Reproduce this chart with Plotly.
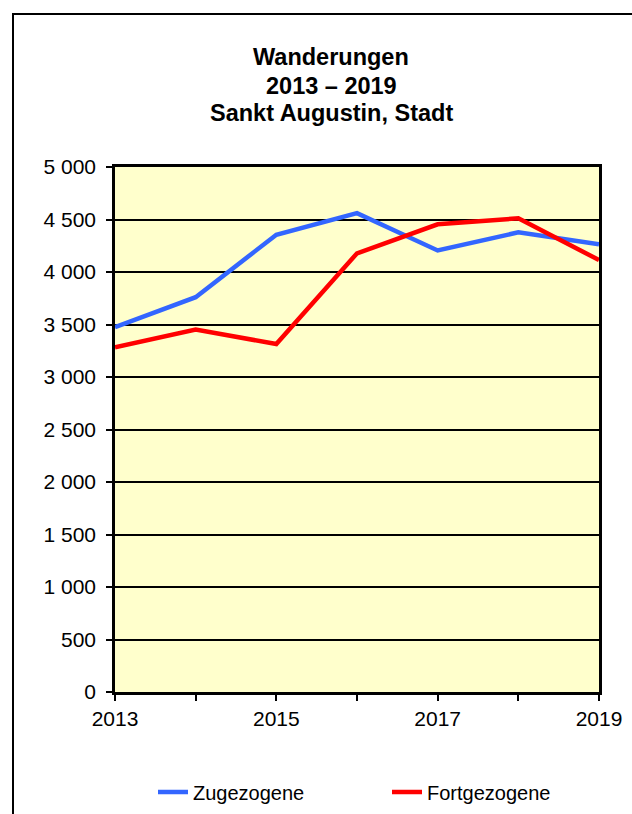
import plotly.graph_objects as go

years = [2013, 2014, 2015, 2016, 2017, 2018, 2019]
zugezogene = [3475, 3760, 4355, 4560, 4205, 4378, 4265]
fortgezogene = [3283, 3452, 3314, 4178, 4454, 4511, 4114]
x_tick_text = ["2013", "", "2015", "", "2017", "", "2019"]
title_lines = ["Wanderungen", "2013 – 2019", "Sankt Augustin, Stadt"]

FONT = "Liberation Sans, Arial, sans-serif"
W, H = 632, 814
L, R, T, B = 115, 33, 167, 122
PW, PH = W - L - R, H - T - B

def px_x(p):
    return (p - L) / PW

def px_y(p):
    return (H - B - p) / PH

fig = go.Figure()
fig.add_trace(go.Scatter(x=years, y=zugezogene, mode="lines", name="Zugezogene",
                         line=dict(color="#3366FF", width=4.5)))
fig.add_trace(go.Scatter(x=years, y=fortgezogene, mode="lines", name="Fortgezogene",
                         line=dict(color="#FF0000", width=4.5)))

annotations = []
for txt, yc in zip(title_lines, [57.5, 85.5, 113]):
    annotations.append(dict(text="<b>" + txt + "</b>", xref="paper", yref="paper",
                            x=px_x(331), y=px_y(yc), xanchor="center", yanchor="middle",
                            showarrow=False, font=dict(family=FONT, size=23.5, color="black")))

fig.update_layout(
    width=W, height=H,
    margin=dict(l=L, r=R, t=T, b=B, pad=0, autoexpand=False),
    paper_bgcolor="white",
    plot_bgcolor="#FFFFCC",
    separators=", ",
    font=dict(family=FONT, size=20, color="black"),
    showlegend=True,
    legend=dict(orientation="h", xref="container", yref="container",
                x=153 / W, xanchor="left", y=(H - 792) / H, yanchor="middle",
                font=dict(family=FONT, size=20, color="black"),
                entrywidth=189, entrywidthmode="pixels", bgcolor="rgba(0,0,0,0)"),
    annotations=annotations,
    shapes=[dict(type="rect", xref="paper", yref="paper",
                 x0=px_x(13), x1=px_x(700), y0=px_y(880), y1=px_y(14),
                 line=dict(color="black", width=2), fillcolor="rgba(0,0,0,0)", layer="below")],
)

fig.update_xaxes(range=[2013, 2019], tickmode="array", tickvals=years, ticktext=x_tick_text,
                 ticks="outside", ticklen=6, tickwidth=2, tickcolor="black",
                 showline=True, linecolor="black", linewidth=3, mirror=True,
                 showgrid=False, zeroline=False, ticklabelstandoff=0,
                 tickfont=dict(family=FONT, size=21, color="black"))
fig.update_yaxes(range=[0, 5000], dtick=500, tickformat=",d",
                 ticks="outside", ticklen=6, tickwidth=2, tickcolor="black",
                 showline=True, linecolor="black", linewidth=2.5, mirror=True,
                 showgrid=True, gridcolor="black", gridwidth=2, zeroline=False,
                 ticklabelstandoff=6,
                 tickfont=dict(family=FONT, size=21, color="black"))

fig.write_html("out.html", config={"displayModeBar": False},
               post_script="document.body.style.margin='0';document.body.style.overflow='hidden';")
